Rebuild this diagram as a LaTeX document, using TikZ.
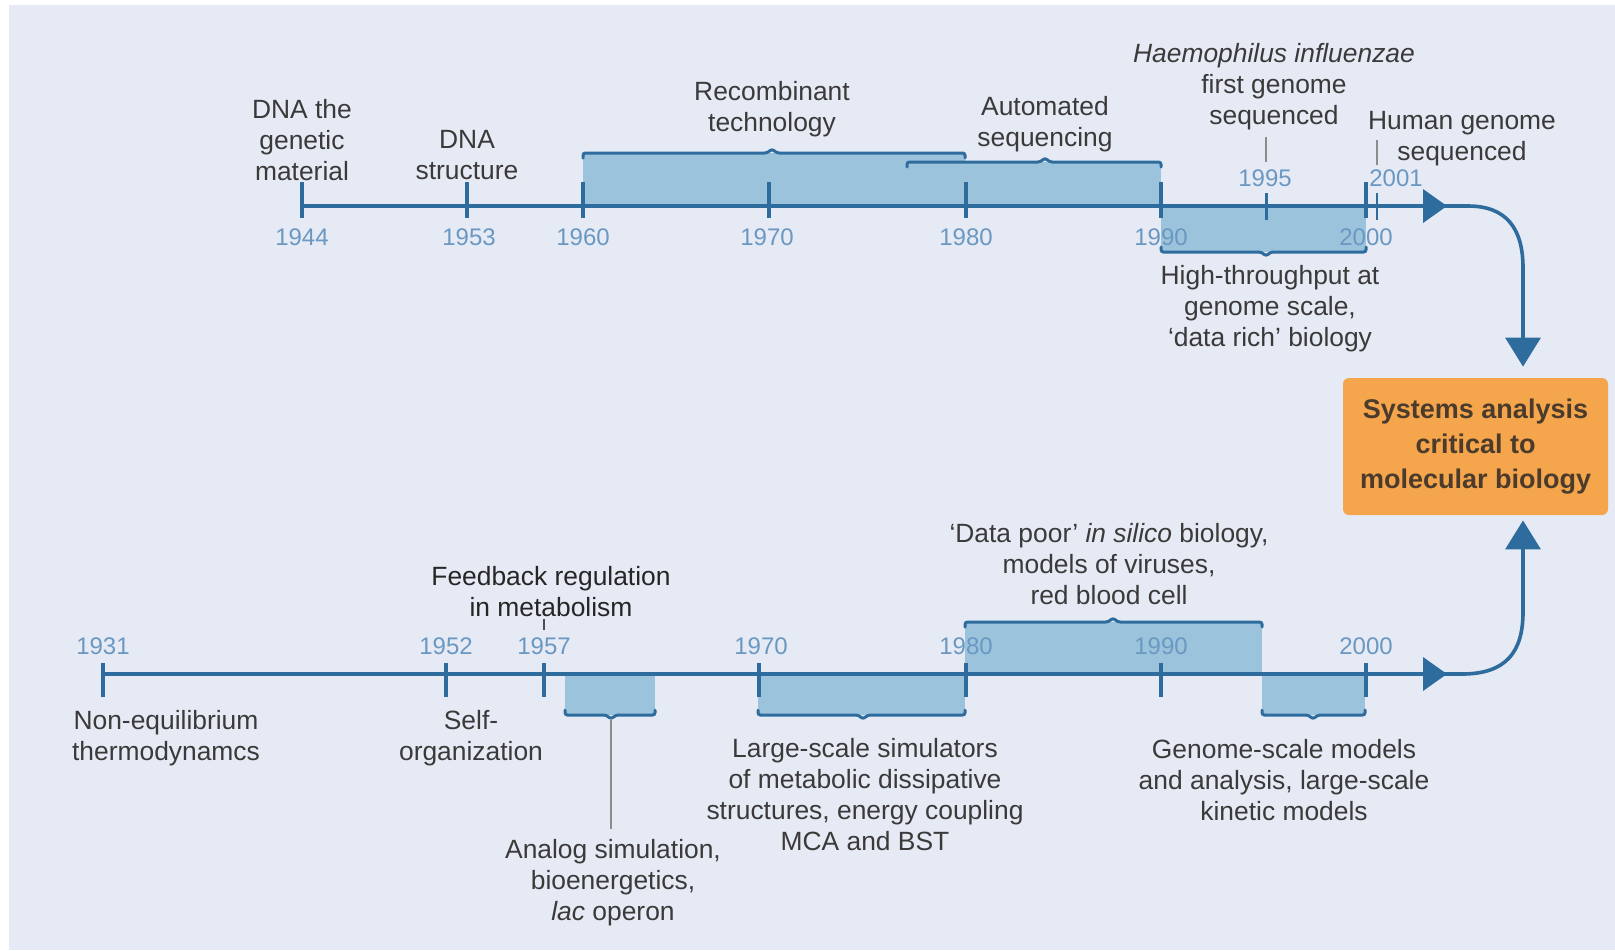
\documentclass[tikz,border=0pt]{standalone}
\usepackage{fontspec}
\setmainfont{Liberation Sans}
\usetikzlibrary{arrows.meta}

\definecolor{bgc}{HTML}{E6EAF4}
\definecolor{axisc}{HTML}{2E6C9E}
\definecolor{spanc}{HTML}{9CC3DC}
\definecolor{yearc}{HTML}{6A98C2}
\definecolor{txtc}{HTML}{3A3A3A}
\definecolor{ptrc}{HTML}{8C8C8C}
\definecolor{goalc}{HTML}{F5A54C}
\definecolor{goaltxt}{HTML}{4A3B2C}

% brace above the axis: #1 left x, #2 right x, #3 y, #4 x of the bump
\newcommand\tlspanup[4]{%
  \draw[brace] (#1,#3+5) -- (#1,#3) -- (#4-5,#3) -- (#4,#3-4) -- (#4+5,#3) -- (#2,#3) -- (#2,#3+5);}
% brace below the axis
\newcommand\tlspandown[4]{%
  \draw[brace] (#1,#3-5) -- (#1,#3) -- (#4-5,#3) -- (#4,#3+4) -- (#4+5,#3) -- (#2,#3) -- (#2,#3-5);}

\begin{document}
\begin{tikzpicture}[x=0.5pt,y=-0.5pt,
  axis/.style={draw=axisc,line width=2pt,-{Triangle[length=12pt,width=16.5pt]}},
  tick/.style={draw=axisc,line width=2pt},
  minortick/.style={draw=axisc,line width=1.3pt},
  span/.style={fill=spanc},
  brace/.style={draw=axisc,line width=1.5pt,rounded corners=1.2pt,line cap=round},
  year/.style={text=yearc,font=\fontsize{12}{14}\selectfont,inner sep=0pt},
  lbl/.style={text=txtc,font=\fontsize{13.2}{15.5}\selectfont,align=center,inner sep=0pt},
  ptr/.style={draw=ptrc,line width=1pt},
  conn/.style={draw=axisc,line width=1.8pt,-{Triangle[length=14.5pt,width=17.5pt]}},
  goal/.style={fill=goalc,rounded corners=3pt,minimum width=132.5pt,minimum height=68.5pt,
    text=goaltxt,font=\fontsize{13.5}{17.5}\selectfont\bfseries,align=center,inner sep=0pt}]

% canvas
\useasboundingbox (0,0) rectangle (1615,950);
\fill[white] (0,0) rectangle (1615,950);
\fill[bgc] (9,5) rectangle (1615,950);

% ---------------- upper timeline: molecular biology ----------------
\coordinate (tstart) at (302,206);
\coordinate (tend) at (1447,206);
\coordinate (tx) at (1523,0);

% shaded periods
\fill[span] (583,153) rectangle (965,206);
\fill[span] (907,162) rectangle (1161,206);
\fill[span] (1161,206) rectangle (1366,252);
\tlspanup{583}{965}{153}{772}
\tlspanup{907}{1161}{162}{1045}
\tlspandown{1161}{1366}{252}{1266}

\draw[axis] (tstart) -- (tend);
\foreach \x in {302,467,583,769,966,1161,1366}
  \draw[tick] (\x,182) -- (\x,218);
\draw[tick,line width=1.5pt] (1266,193) -- (1266,220);
\draw[minortick,line width=1pt] (1377,193) -- (1377,220);

% years
\node[year] (y1944) at (302,237) {1944};
\node[year] (y1953) at (469,237) {1953};
\node[year] (y1960) at (583,237) {1960};
\node[year] (y1970) at (767,237) {1970};
\node[year] (y1980) at (966,237) {1980};
\node[year] (y1990) at (1161,237) {1990};
\node[year] (y2000) at (1366,237) {2000};
\node[year] (y1995) at (1265,178) {1995};
\node[year] (y2001) at (1396,178) {2001};

% events
\node[lbl] (dnagen) at (302,140) {DNA the\\genetic\\material};
\node[lbl] (dnastr) at (467,155) {DNA\\structure};
\node[lbl] (recomb) at (772,109) {Recombinant\\technology};
\node[lbl] (autoseq) at (1045,124) {Automated\\sequencing};
\node[lbl] (haemo) at (1274,87) {\itshape Haemophilus influenzae\\first genome\\sequenced};
\node[lbl] (human) at (1462,139) {Human genome\\sequenced};
\node[lbl] (highthr) at (1270,309) {High-throughput at\\genome scale,\\`data rich' biology};

\coordinate (p95a) at (1266,137);
\coordinate (p95b) at (1266,162);
\coordinate (p01a) at (1377,140);
\coordinate (p01b) at (1377,165);
\draw[ptr] (p95a) -- (p95b);
\draw[ptr] (p01a) -- (p01b);

% ---------------- goal ----------------
\node[goal] (goal) at (1475.5,446.5) {Systems analysis\\critical to\\molecular biology};

\draw[conn,shorten >=5.5pt] ([xshift=-3.5pt]tend) -- (1468,206)
  .. controls (1506,206) and (1523,228) .. (1523,268) -- (goal.north -| tx);

% ---------------- lower timeline: systems theory ----------------
\coordinate (bstart) at (103,674);
\coordinate (bend) at (1447,674);

\fill[span] (565,674) rectangle (655,715);
\fill[span] (758,674) rectangle (965,715);
\fill[span] (965,622) rectangle (1262,674);
\fill[span] (1262,674) rectangle (1365,715);
\tlspandown{565}{655}{715}{611}
\tlspandown{758}{965}{715}{863}
\tlspanup{965}{1262}{622}{1113}
\tlspandown{1262}{1365}{715}{1313}

\draw[axis] (bstart) -- (bend);
\foreach \x in {103,446,544,759,966,1161,1366}
  \draw[tick] (\x,663) -- (\x,697);

\node[year] (z1931) at (103,646) {1931};
\node[year] (z1952) at (446,646) {1952};
\node[year] (z1957) at (544,646) {1957};
\node[year] (z1970) at (761,646) {1970};
\node[year] (z1980) at (966,646) {1980};
\node[year] (z1990) at (1161,646) {1990};
\node[year] (z2000) at (1366,646) {2000};

\node[lbl] (noneq) at (166,738) {Non-equilibrium\\thermodynamcs};
\node[lbl] (selforg) at (471,738) {Self-\\organization};
\node[lbl,text=black!85] (feedback) at (551,592) {Feedback regulation\\in metabolism};
\node[lbl] (analog) at (613,883) {Analog simulation,\\bioenergetics,\\\textit{lac} operon};
\node[lbl] (largesc) at (865,794.5) {Large-scale simulators\\of metabolic dissipative\\structures, energy coupling\\MCA and BST};
\node[lbl] (datapoor) at (1109,564) {`Data poor' \textit{in silico} biology,\\models of viruses,\\red blood cell};
\node[lbl] (genome) at (1284,780) {Genome-scale models\\and analysis, large-scale\\kinetic models};

\coordinate (p57a) at (544,619);
\coordinate (p57b) at (544,630);
\coordinate (pana) at (611,720);
\coordinate (panb) at (611,829);
\draw[ptr,draw=black!70] (p57a) -- (p57b);
\draw[ptr] (pana) -- (panb);

\draw[conn,shorten >=2.5pt] ([xshift=-3.5pt]bend) -- (1462,674)
  .. controls (1506,674) and (1523,652) .. (1523,612) -- (goal.south -| tx);

\end{tikzpicture}
\end{document}
